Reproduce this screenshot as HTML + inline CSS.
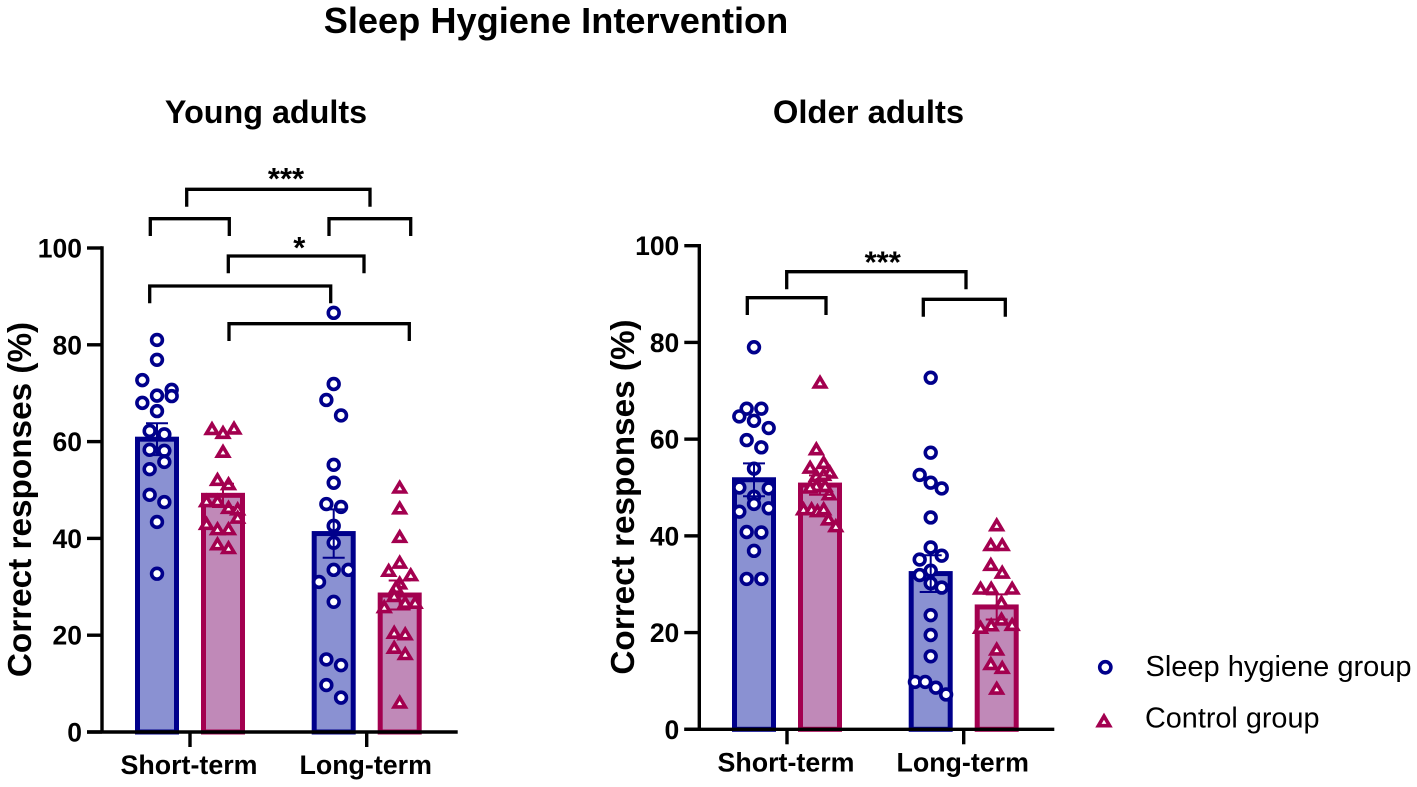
<!DOCTYPE html>
<html lang="en">
<head>
<meta charset="utf-8">
<title>Sleep Hygiene Intervention</title>
<style>
html,body{margin:0;padding:0;background:#fff;}
svg{display:block;}
text{font-family:"Liberation Sans",Arial,sans-serif;fill:#000;}
.b{font-weight:700;}
.br{fill:none;stroke:#000;stroke-width:3.3;stroke-linejoin:miter;}
</style>
</head>
<body>
<svg id="chart" xmlns="http://www.w3.org/2000/svg" width="1417" height="787" viewBox="0 0 1417 787">
  <rect width="1417" height="787" fill="#fff"/>
  <text class="b" x="556" y="33" font-size="36.2" text-anchor="middle">Sleep Hygiene Intervention</text>
  <text class="b" x="266" y="123" font-size="32.3" text-anchor="middle">Young adults</text>
  <text class="b" x="868.5" y="123" font-size="32.8" text-anchor="middle">Older adults</text>
  <text class="b" transform="translate(31,499.5) rotate(-90)" font-size="33.3" text-anchor="middle">Correct responses (%)</text>
  <text class="b" transform="translate(634,497) rotate(-90)" font-size="33.3" text-anchor="middle">Correct responses (%)</text>

  <g id="young-panel"></g>
  <g id="older-panel"></g>

  <g>
    <polyline class="br" points="186.7,206.7 186.7,189.3 370,189.3 370,206.7"/>
    <polyline class="br" points="150.3,236 150.3,218.7 229.3,218.7 229.3,236"/>
    <polyline class="br" points="329,236 329,218.7 410.7,218.7 410.7,236"/>
    <polyline class="br" points="228.3,273.3 228.3,256 364,256 364,273.3"/>
    <polyline class="br" points="149.7,303.3 149.7,286 330.7,286 330.7,303.3"/>
    <polyline class="br" points="229,341 229,323.7 409.3,323.7 409.3,341"/>
    <text x="286" y="189" font-size="31" font-weight="700" text-anchor="middle">***</text>
    <text x="299.3" y="258" font-size="31" font-weight="700" text-anchor="middle">*</text>
  </g>
  <g>
    <polyline class="br" points="786.7,289.3 786.7,271.7 966,271.7 966,289.3"/>
    <polyline class="br" points="747.3,315 747.3,297.7 826,297.7 826,315"/>
    <polyline class="br" points="923.3,316.7 923.3,299.3 1005.3,299.3 1005.3,316.7"/>
    <text x="882.7" y="272.5" font-size="31" font-weight="700" text-anchor="middle">***</text>
  </g>

  <g>
    <circle cx="1105.3" cy="667.3" r="5.6" fill="#fff" stroke="#00008b" stroke-width="3.6"/>
    <text x="1145.5" y="676" font-size="29">Sleep hygiene group</text>
    <polygon points="1104,716.2 1109.6,725.7 1098.4,725.7" fill="#fff" stroke="#a3004f" stroke-width="3.6"/>
    <text x="1145" y="727.7" font-size="28.8">Control group</text>
  </g>
</svg>

<script>
// ---- shared axis data ----
var yTicks = [0, 20, 40, 60, 80, 100];
var categories = ["Short-term", "Long-term"];

// ---- Young adults: bar means and standard errors ----
var youngSleepMeans = [60.5, 41];
var youngSleepErrors = [3.3, 5];
var youngControlMeans = [48.9, 28.3];
var youngControlErrors = [2.4, 3];

// ---- Young adults: individual responses ----
var youngSleepShort = [81, 76.9, 72.7, 69.5, 70.7, 69.4, 68, 66.3, 62.2, 61.5, 58.3, 58.1, 55.8, 54.3, 49, 47.5, 43.4, 32.7];
var youngSleepShortJitter = [0, 0, -4, 0, 4, 4, -4, 0, -2, 2, -2, 2, 2, -2, -2, 2, 0, 0];
var youngControlShort = [62.8, 62, 62.9, 58.1, 52.3, 51.4, 47.9, 47.9, 46.5, 46.2, 44.5, 43.2, 42.1, 42.1, 39, 38.2];
var youngControlShortJitter = [-3, 0, 3, 0, -1.5, 1.5, -4.5, -1.5, 1.5, 4, 4, -4.5, -1.5, 1.5, -1.5, 1.5];
var youngSleepLong = [86.6, 71.9, 68.6, 65.4, 55.2, 51.5, 47.1, 46.5, 42.6, 39.1, 33.5, 33.5, 31, 26.9, 15, 13.8, 9.7, 7.1];
var youngSleepLongJitter = [0, 0, -2, 2, 0, 0, -2, 2, 0, 0, 0, 4, -4, 0, -2, 2, -2, 2];
var youngControlLong = [50.7, 46.4, 40.5, 35.2, 33.5, 32.6, 30.9, 30, 28.3, 26.9, 26.9, 26, 20.7, 20.4, 17.6, 16.3, 6.3];
var youngControlLongJitter = [0, 0, 0, 0, -3, 3, 0, -1, -1.5, 1.5, 4.2, -4.2, -1.5, 1.5, -1.5, 1.5, 0];

// ---- Older adults: bar means and standard errors ----
var olderSleepMeans = [51.6, 32.2];
var olderSleepErrors = [3.4, 3.8];
var olderControlMeans = [50.5, 25.3];
var olderControlErrors = [2, 2.6];

// ---- Older adults: individual responses ----
var olderSleepShort = [79, 66.3, 66.3, 64.7, 63.8, 62.3, 59.8, 58.3, 53.9, 50, 49.8, 48.1, 46.6, 45, 45.7, 40.8, 40.7, 36.9, 31.1, 31.1];
var olderSleepShortJitter = [0, -2, 2, -4, 0, 4, -2, 2, 0, -4, 4, 0, 0, -4, 4, -2, 2, 0, -2, 2];
var olderControlShort = [71.9, 58.1, 55.3, 54.3, 53.3, 52.6, 52.8, 50.5, 50.2, 50.5, 48.8, 45.7, 45.7, 45.3, 45.7, 43.6, 42.2];
var olderControlShortJitter = [0, -1, 1, -2.7, 2.7, -1, 1, -1, -2.7, 1.4, 2.5, -4.5, -2.3, -0.7, 1, 2.3, 4.3];
var olderSleepLong = [72.7, 57.2, 52.6, 51, 49.8, 43.8, 37.6, 35.9, 35.1, 32.8, 31.9, 30.2, 29.3, 23.6, 19.5, 15.1, 9.8, 9.8, 8.6, 7.2];
var olderSleepLongJitter = [0, 0, -3, 0, 3, 0, 0, 3, -3, 0, -3, 0, 3, 0, 0, 0, -4.3, -1.5, 1.4, 4.2];
var olderControlLong = [42.4, 38.3, 38.3, 34.2, 32.6, 29.3, 29.3, 29.3, 26.4, 22.9, 21.7, 21.8, 21.2, 16.7, 13.7, 12.9, 8.6];
var olderControlLongJitter = [0, -1.6, 1.5, -1.6, 1.5, -4.4, -1.5, 4.2, 1.3, 1.3, -1.5, 4.2, -4.4, 0, -1.6, 1.5, 0];

var SVGNS = "http://www.w3.org/2000/svg";
var SLEEP = {stroke: "#00008b", fill: "#8a91d2"};
var CONTROL = {stroke: "#a3004f", fill: "#c089b8"};

function make(parent, tag, attrs, text) {
  var el = document.createElementNS(SVGNS, tag);
  for (var k in attrs) { el.setAttribute(k, attrs[k]); }
  if (text !== undefined) { el.textContent = text; }
  parent.appendChild(el);
  return el;
}

function drawPanel(root, frame, sleepMeans, sleepErrors, controlMeans, controlErrors, sleepGroups, controlGroups) {
  function y(v) { return frame.y0 + (frame.y100 - frame.y0) * v / 100; }
  function xCat(i) { return frame.cat0 + (frame.cat1 - frame.cat0) * i; }
  function xBar(i, s) { return xCat(i) + s * 33; }
  function xJit(i, s, j) { return xBar(i, s) + j * 3.67; }

  function drawSeries(i, s, style, mean, err, vals, jit, label) {
    var cx = xBar(i, s);
    var bar = make(root, "rect", {x: cx - 19.5, y: y(mean), width: 39, height: y(0) - y(mean), fill: style.fill, stroke: style.stroke, "stroke-width": 5});
    
    
    vals.forEach(function (v, n) {
      var px = xJit(i, s, jit[n]), py = y(v), m;
      if (s < 0) {
        m = make(root, "circle", {cx: px, cy: py, r: 5.4, fill: "#fff", stroke: style.stroke, "stroke-width": 3.6});
      } else {
        m = make(root, "polygon", {points: px + "," + (py - 4) + " " + (px + 5.6) + "," + (py + 5.4) + " " + (px - 5.6) + "," + (py + 5.4), fill: "#fff", stroke: style.stroke, "stroke-width": 3.6});
      }
      
      
    });
    var eb = make(root, "path", {d: "M" + cx + " " + y(mean + err) + "V" + y(mean - err) + "M" + (cx - 11) + " " + y(mean + err) + "H" + (cx + 11) + "M" + (cx - 11) + " " + y(mean - err) + "H" + (cx + 11), fill: "none", stroke: style.stroke, "stroke-width": 2});
    
    
  }

  categories.forEach(function (c, i) {
    var key = c.toLowerCase();
    drawSeries(i, -1, SLEEP, sleepMeans[i], sleepErrors[i], sleepGroups[i][0], sleepGroups[i][1], 'sleep-' + key);
    drawSeries(i, 1, CONTROL, controlMeans[i], controlErrors[i], controlGroups[i][0], controlGroups[i][1], 'control-' + key);
  });

  var yAxis = make(root, "line", {x1: frame.axisX, x2: frame.axisX, y1: y(100) - 1.7, y2: y(0), stroke: "#000", "stroke-width": 3.4});
  
  
  var xAxis = make(root, "line", {x1: frame.axisX - 15, x2: frame.axisEnd, y1: y(0), y2: y(0), stroke: "#000", "stroke-width": 3.4});
  
  

  yTicks.forEach(function (t) {
    var tick = make(root, "line", {x1: frame.axisX - 15, x2: frame.axisX, y1: y(t), y2: y(t), stroke: "#000", "stroke-width": 3.4});
    
    
    var lab = make(root, "text", {x: frame.axisX - 20, y: y(t) + 9.5, "font-size": 26.5, "font-weight": 700, "text-anchor": "end"}, String(t));
    
    
  });

  categories.forEach(function (c, i) {
    var tick = make(root, "line", {x1: xCat(i), x2: xCat(i), y1: y(0), y2: y(0) + 15, stroke: "#000", "stroke-width": 3.4});
    
    
    var lab = make(root, "text", {x: xCat(i) - 1, y: y(0) + 42, "font-size": 26.8, "font-weight": 700, "text-anchor": "middle"}, c);
    
    
  });
}

drawPanel(document.getElementById("young-panel"),
  {y0: 732, y100: 248, cat0: 190, cat1: 366.7, axisX: 102, axisEnd: 457.7},
  youngSleepMeans, youngSleepErrors, youngControlMeans, youngControlErrors,
  [[youngSleepShort, youngSleepShortJitter], [youngSleepLong, youngSleepLongJitter]],
  [[youngControlShort, youngControlShortJitter], [youngControlLong, youngControlLongJitter]]);

drawPanel(document.getElementById("older-panel"),
  {y0: 729.3, y100: 245.7, cat0: 787, cat1: 963.7, axisX: 699.3, axisEnd: 1054.3},
  olderSleepMeans, olderSleepErrors, olderControlMeans, olderControlErrors,
  [[olderSleepShort, olderSleepShortJitter], [olderSleepLong, olderSleepLongJitter]],
  [[olderControlShort, olderControlShortJitter], [olderControlLong, olderControlLongJitter]]);
</script>
</body>
</html>
